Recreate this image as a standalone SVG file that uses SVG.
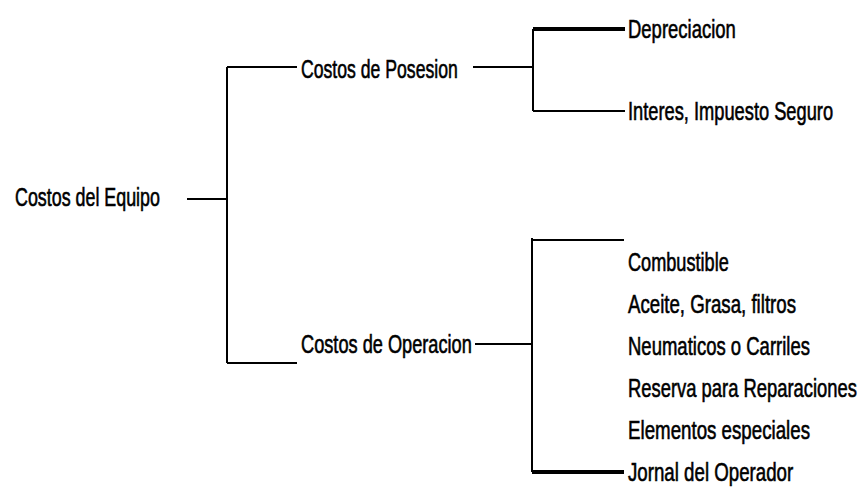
<svg xmlns="http://www.w3.org/2000/svg" width="868" height="487" viewBox="0 0 868 487">
<style>
.t{font-family:"Liberation Sans",Arial,sans-serif;font-size:26px;fill:#000;stroke:#000;stroke-width:0.6}
.l{stroke:#000;stroke-width:2;fill:none}
.k{stroke:#000;stroke-width:4;fill:none}
</style>
<rect width="868" height="487" fill="#fff"/>
<g id="connectors">
<path class="l" d="M187 199H227M227 67V363M227 67H297M227 363H297"/>
<path class="l" d="M473 67H533M533 29V111M533 111H625"/>
<path class="k" d="M533 29H625"/>
<path class="l" d="M475 344H532M532 238V472M532 240H624"/>
<path class="k" d="M532 472H624"/>
</g>
<g id="n-equipo"><text class="t" transform="translate(15,206) scale(0.7,1)" textLength="207" lengthAdjust="spacingAndGlyphs">Costos del Equipo</text></g>
<g id="n-posesion"><text class="t" transform="translate(301,78) scale(0.7,1)" textLength="224" lengthAdjust="spacingAndGlyphs">Costos de Posesion</text></g>
<g id="n-operacion"><text class="t" transform="translate(301,353) scale(0.7,1)" textLength="244" lengthAdjust="spacingAndGlyphs">Costos de Operacion</text></g>
<g id="n-depreciacion"><text class="t" transform="translate(628,38) scale(0.7,1)" textLength="154" lengthAdjust="spacingAndGlyphs">Depreciacion</text></g>
<g id="n-interes"><text class="t" transform="translate(628,120) scale(0.7,1)" textLength="293" lengthAdjust="spacingAndGlyphs">Interes, Impuesto Seguro</text></g>
<g id="n-combustible"><text class="t" transform="translate(628,271) scale(0.7,1)" textLength="144" lengthAdjust="spacingAndGlyphs">Combustible</text></g>
<g id="n-aceite"><text class="t" transform="translate(628,313) scale(0.7,1)" textLength="240" lengthAdjust="spacingAndGlyphs">Aceite, Grasa, filtros</text></g>
<g id="n-neumaticos"><text class="t" transform="translate(628,355) scale(0.7,1)" textLength="260" lengthAdjust="spacingAndGlyphs">Neumaticos o Carriles</text></g>
<g id="n-reserva"><text class="t" transform="translate(628,397) scale(0.7,1)" textLength="327" lengthAdjust="spacingAndGlyphs">Reserva para Reparaciones</text></g>
<g id="n-elementos"><text class="t" transform="translate(628,439) scale(0.7,1)" textLength="260" lengthAdjust="spacingAndGlyphs">Elementos especiales</text></g>
<g id="n-jornal"><text class="t" transform="translate(628,481) scale(0.7,1)" textLength="236" lengthAdjust="spacingAndGlyphs">Jornal del Operador</text></g>
</svg>
